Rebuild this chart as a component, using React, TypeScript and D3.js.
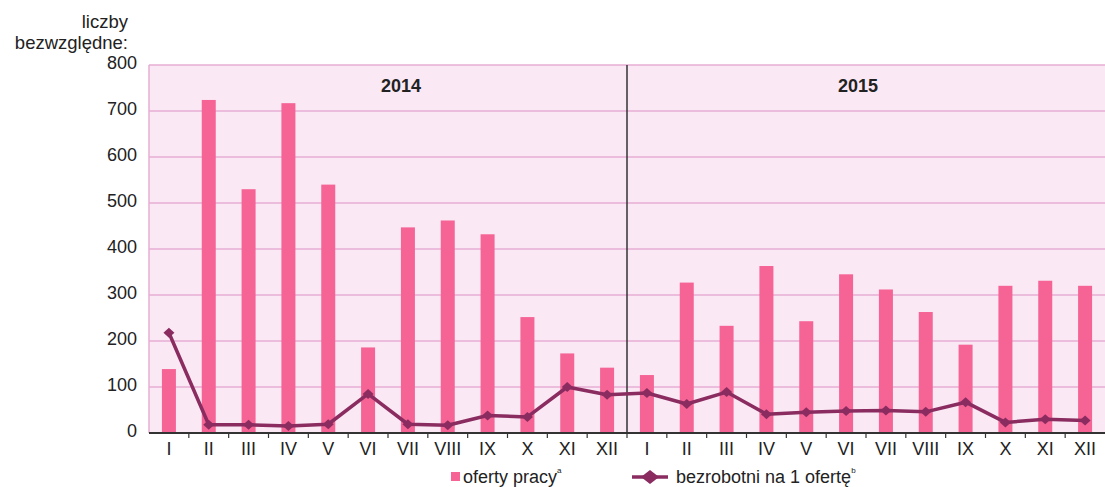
import React from "react";
import * as d3 from "d3";

const months = ["I", "II", "III", "IV", "V", "VI", "VII", "VIII", "IX", "X", "XI", "XII"];
const years = ["2014", "2015"];
const offers2014 = [139, 724, 530, 717, 540, 186, 447, 462, 432, 252, 173, 142];
const offers2015 = [126, 327, 233, 363, 243, 345, 312, 263, 192, 320, 331, 320];
const perOffer2014 = [218, 18, 18, 15, 19, 85, 19, 17, 38, 35, 100, 83];
const perOffer2015 = [87, 63, 89, 41, 45, 48, 49, 46, 67, 23, 30, 27];
const yTicks = [0, 100, 200, 300, 400, 500, 600, 700, 800];

const FONT = "'Liberation Sans', Arial, sans-serif";
const BAR = "#f56495";
const LINE = "#8a2c60";

export default function App() {
  const width = 1105;
  const height = 487;
  const m = { left: 149, right: 1105, top: 65, bottom: 433 };

  const rows = years.flatMap((yr, yi) =>
    months.map((mo, mi) => ({
      key: `${yr}-${mo}`,
      month: mo,
      offers: yi === 0 ? offers2014[mi] : offers2015[mi],
      ratio: yi === 0 ? perOffer2014[mi] : perOffer2015[mi],
    }))
  );

  const x = d3.scaleBand().domain(rows.map((r) => r.key)).range([m.left, m.right]);
  const y = d3.scaleLinear().domain([0, 800]).range([m.bottom, m.top]);
  const bw = 14;
  const cx = (k: string) => (x(k) as number) + x.bandwidth() / 2;

  const line = d3
    .line<(typeof rows)[number]>()
    .x((d) => cx(d.key))
    .y((d) => y(d.ratio));

  // rhombus slightly wider than tall
  const rhomb = (w: number, h: number) => `M${-w / 2},0L0,${-h / 2}L${w / 2},0L0,${h / 2}Z`;
  const divX = x(rows[12].key) as number;

  return (
    <svg width={width} height={height} style={{ position: "absolute", left: 0, top: 0 }} fontFamily={FONT}>
      <rect x={m.left} y={m.top} width={m.right - m.left} height={m.bottom - m.top} fill="#fae8f5" />
      {yTicks.map((t) => (
        <g key={t}>
          {t > 0 && <line x1={m.left} x2={m.right} y1={y(t)} y2={y(t)} stroke="#e6aed3" strokeWidth={1.5} />}
          <text x={137} y={y(t) + 4} textAnchor="end" fontSize={18} fill="#222">
            {t}
          </text>
        </g>
      ))}
      <line x1={m.left} x2={m.left} y1={m.top} y2={m.bottom} stroke="#e6aed3" strokeWidth={1.5} />
      <text x={128} y={28} textAnchor="end" fontSize={18.5} fill="#222">liczby</text>
      <text x={128} y={49} textAnchor="end" fontSize={18.5} fill="#222">bezwzględne:</text>

      {rows.map((r) => (
        <rect key={r.key} x={cx(r.key) - bw / 2} y={y(r.offers)} width={bw} height={y(0) - y(r.offers)} fill={BAR} />
      ))}

      <line x1={divX} x2={divX} y1={m.top} y2={m.bottom} stroke="#333" strokeWidth={1.5} />

      <path d={line(rows) ?? ""} fill="none" stroke={LINE} strokeWidth={3.5} strokeLinejoin="round" />
      {rows.map((r) => (
        <path key={r.key} d={rhomb(11, 10)} transform={`translate(${cx(r.key)},${y(r.ratio)})`} fill={LINE} />
      ))}

      <line x1={m.left} x2={m.right} y1={m.bottom} y2={m.bottom} stroke="#333" strokeWidth={2} />
      {rows.map((r, i) => (
        <line key={r.key} x1={(x(r.key) as number) + x.bandwidth()} x2={(x(r.key) as number) + x.bandwidth()} y1={m.bottom} y2={m.bottom + 5} stroke="#333" strokeWidth={1.2} opacity={i === 23 ? 0 : 1} />
      ))}
      {rows.map((r) => (
        <text key={r.key} x={cx(r.key)} y={455} textAnchor="middle" fontSize={18} fill="#222">
          {r.month}
        </text>
      ))}

      {years.map((yr, i) => (
        <text key={yr} x={i === 0 ? 401 : 858} y={92} textAnchor="middle" fontSize={18} fontWeight="bold" fill="#222">
          {yr}
        </text>
      ))}

      <rect x={451} y={472} width={9} height={9} fill={BAR} />
      <text x={463} y={483} fontSize={18} fill="#222">
        oferty pracy
        <tspan fontSize={8} dy={-10}>a</tspan>
      </text>
      <line x1={632} x2={668} y1={477} y2={477} stroke={LINE} strokeWidth={3.5} />
      <path d={rhomb(18, 14)} transform="translate(650,477)" fill={LINE} />
      <text x={676} y={483} fontSize={18} fill="#222">
        bezrobotni na 1 ofertę
        <tspan fontSize={8} dy={-10}>b</tspan>
      </text>
    </svg>
  );
}
